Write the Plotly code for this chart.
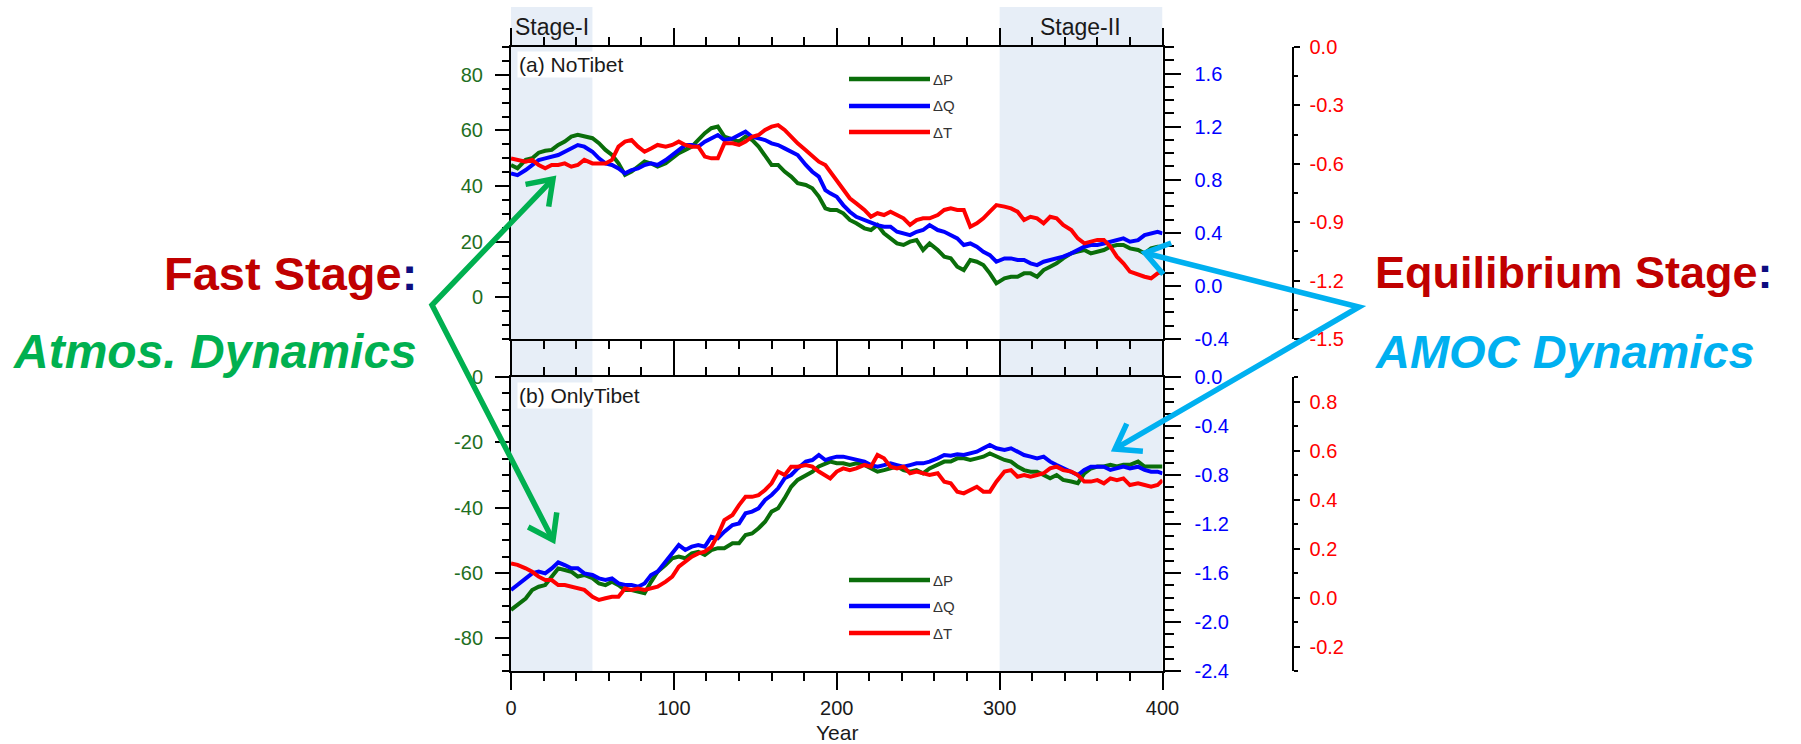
import math
import plotly.graph_objects as go

# ---------------- data ----------------
years = [0, 4, 9, 13, 17, 21, 25, 29, 33, 37, 41, 45, 50, 54, 58, 62, 66, 70, 74, 78,
         82, 86, 90, 95, 99, 103, 107, 111, 115, 119, 123, 127, 131, 136, 140, 144, 148, 152, 156, 160,
         164, 168, 172, 176, 181, 185, 189, 193,
         196, 200, 204, 208, 212, 217, 221, 225, 229, 233, 237, 241, 245, 249, 253, 257, 262, 266, 270, 274,
         278, 282, 286, 290, 294, 298, 303, 307, 311, 315, 319, 323, 327, 331, 335, 339, 344, 348, 352, 356,
         360, 364, 368, 372, 376, 380, 385, 389, 393, 397, 400]

# (a) NoTibet
dP_a = [47.6, 46.4, 49.4, 50.0, 52.0, 52.7, 53.0, 54.8, 56.0, 57.8, 58.4, 58.0, 57.2, 55.4, 53.0, 51.2,
        48.2, 44.0, 45.2, 47.0, 48.8, 48.1, 47.0, 48.2, 50.0, 51.8, 53.0, 54.2, 56.6, 59.0, 60.8, 61.4,
        57.8, 56.6, 56.0, 57.8, 56.6, 54.2, 50.6, 47.6, 47.6, 45.2, 43.4, 41.0, 40.4, 39.2, 36.2, 32.0,
        31.4, 31.4, 30.2, 27.8, 26.6, 24.8, 24.2, 26.0, 23.0, 21.2, 19.4, 18.8, 20.0, 20.6, 17.0, 19.4,
        17.0, 14.6, 14.0, 11.0, 9.8, 13.4, 12.8, 11.6, 8.6, 5.0, 6.8, 7.4, 7.4, 8.6, 8.6, 7.4,
        9.8, 11.0, 12.2, 14.0, 15.8, 16.4, 17.0, 15.8, 16.4, 17.0, 18.2, 18.8, 18.8, 17.6, 17.0, 15.8,
        17.6, 18.2, 18.2]
dQ_a = [0.848, 0.835, 0.873, 0.911, 0.948, 0.961, 0.973, 0.986, 1.011, 1.036, 1.061, 1.049, 1.011, 0.961,
        0.923, 0.911, 0.885, 0.848, 0.873, 0.885, 0.911, 0.923, 0.911, 0.948, 0.986, 1.024, 1.061, 1.061,
        1.049, 1.086, 1.111, 1.137, 1.099, 1.111, 1.137, 1.162, 1.124, 1.111, 1.099, 1.074, 1.061, 1.036,
        1.011, 0.986, 0.911, 0.860, 0.823, 0.722,
        0.697, 0.672, 0.609, 0.559, 0.521, 0.496, 0.471, 0.458, 0.446, 0.446, 0.408, 0.396, 0.383, 0.408,
        0.421, 0.458, 0.421, 0.408, 0.383, 0.358, 0.308, 0.320, 0.295, 0.257, 0.232, 0.182, 0.207, 0.207,
        0.195, 0.195, 0.170, 0.157, 0.182, 0.195, 0.207, 0.220, 0.245, 0.270, 0.295, 0.308, 0.308, 0.320,
        0.333, 0.345, 0.358, 0.333, 0.345, 0.383, 0.396, 0.408, 0.396]
dT_a = [-0.572, -0.580, -0.589, -0.580, -0.606, -0.623, -0.606, -0.606, -0.598, -0.615, -0.606, -0.580,
        -0.598, -0.598, -0.598, -0.580, -0.512, -0.486, -0.478, -0.512, -0.538, -0.521, -0.503, -0.512,
        -0.503, -0.486, -0.503, -0.512, -0.512, -0.563, -0.572, -0.572, -0.495, -0.495, -0.503, -0.486,
        -0.461, -0.452, -0.426, -0.409, -0.401, -0.426, -0.461, -0.495, -0.530, -0.563, -0.589, -0.606,
        -0.640, -0.683, -0.735, -0.777, -0.803, -0.837, -0.872, -0.854, -0.863, -0.846, -0.863, -0.880,
        -0.914, -0.889, -0.880, -0.880, -0.863, -0.837, -0.829, -0.837, -0.837, -0.923, -0.906, -0.880,
        -0.846, -0.812, -0.820, -0.829, -0.846, -0.889, -0.872, -0.880, -0.906, -0.872, -0.880, -0.914,
        -0.940, -0.983, -1.009, -1.000, -0.991, -0.991, -1.026, -1.077, -1.111, -1.154, -1.171, -1.180,
        -1.188, -1.163, -1.154]

# (b) OnlyTibet
dP_b = [-71.3, -69.8, -67.8, -65.2, -64.2, -63.7, -61.1, -58.6, -59.1, -59.6, -61.1, -60.6, -61.6, -63.2,
        -63.7, -62.7, -63.7, -65.2, -65.2, -65.7, -66.2, -62.7, -59.6, -57.5, -55.5, -55.0, -55.5, -54.0,
        -53.5, -54.5, -53.0, -52.4, -52.4, -50.9, -50.9, -48.4, -47.9, -46.3, -44.3, -41.2, -40.2, -37.1,
        -33.6, -31.5, -30.0, -29.0, -27.4, -26.4,
        -25.9, -26.4, -26.4, -26.9, -26.4, -26.9, -28.0, -29.0, -28.5, -28.0, -27.4, -28.5, -29.0, -28.5,
        -29.5, -28.0, -26.9, -25.9, -25.9, -24.9, -24.9, -25.4, -24.9, -24.4, -23.4, -24.4, -25.4, -25.9,
        -27.4, -28.5, -29.0, -29.0, -30.0, -31.0, -30.0, -31.5, -32.0, -32.5, -29.5, -28.0, -27.4, -27.4,
        -26.9, -27.4, -26.9, -26.9, -25.9, -27.4, -27.4, -27.4, -27.4]
dQ_b = [-1.739, -1.698, -1.644, -1.603, -1.589, -1.603, -1.562, -1.513, -1.535, -1.562, -1.562, -1.603,
        -1.616, -1.644, -1.657, -1.644, -1.685, -1.698, -1.698, -1.712, -1.685, -1.616, -1.589, -1.508,
        -1.440, -1.372, -1.412, -1.385, -1.372, -1.385, -1.304, -1.317, -1.263, -1.208, -1.195, -1.113,
        -1.099, -1.072, -1.004, -0.963, -0.909, -0.827, -0.800, -0.746, -0.691, -0.678, -0.637, -0.678,
        -0.664, -0.650, -0.650, -0.664, -0.678, -0.691, -0.719, -0.732, -0.719, -0.705, -0.719, -0.732,
        -0.719, -0.705, -0.705, -0.691, -0.664, -0.637, -0.642, -0.631, -0.637, -0.623, -0.610, -0.582,
        -0.555, -0.582, -0.596, -0.582, -0.610, -0.637, -0.650, -0.664, -0.650, -0.691, -0.719, -0.746,
        -0.773, -0.800, -0.759, -0.732, -0.732, -0.732, -0.759, -0.746, -0.732, -0.746, -0.732, -0.759,
        -0.773, -0.773, -0.787]
dT_b = [0.139, 0.133, 0.119, 0.105, 0.085, 0.071, 0.071, 0.051, 0.051, 0.044, 0.037, 0.031, 0.003, -0.010,
        -0.003, 0.003, 0.003, 0.037, 0.031, 0.037, 0.031, 0.037, 0.044, 0.065, 0.085, 0.126, 0.146, 0.167,
        0.180, 0.187, 0.207, 0.255, 0.316, 0.337, 0.377, 0.411, 0.411, 0.418, 0.439, 0.466, 0.514, 0.500,
        0.534, 0.534, 0.541, 0.534, 0.514, 0.500,
        0.486, 0.514, 0.527, 0.520, 0.527, 0.541, 0.534, 0.582, 0.568, 0.534, 0.527, 0.534, 0.507, 0.514,
        0.507, 0.500, 0.507, 0.473, 0.466, 0.432, 0.425, 0.439, 0.452, 0.432, 0.432, 0.473, 0.514, 0.520,
        0.493, 0.500, 0.493, 0.500, 0.507, 0.527, 0.534, 0.520, 0.514, 0.500, 0.473, 0.473, 0.479, 0.466,
        0.486, 0.479, 0.486, 0.459, 0.466, 0.459, 0.452, 0.459, 0.479]

# tick values / labels
x_ticks = [0, 100, 200, 300, 400]
left_a_ticks = [0, 20, 40, 60, 80]
left_b_ticks = [-80, -60, -40, -20, 0]
blue_a_ticks = [-0.4, 0.0, 0.4, 0.8, 1.2, 1.6]
blue_b_ticks = [-2.4, -2.0, -1.6, -1.2, -0.8, -0.4, 0.0]
red_a_ticks = [-1.5, -1.2, -0.9, -0.6, -0.3, 0.0]
red_b_ticks = [-0.2, 0.0, 0.2, 0.4, 0.6, 0.8]
stage1 = [0, 50]
stage2 = [300, 400]
series_names = ["\u0394P", "\u0394Q", "\u0394T"]

# ---------------- styling / layout geometry ----------------
W, H = 1801, 744
def fx(px):
    return px / W
def fy(py):
    return 1 - py / H

X0, X1 = 511, 1162.5
A_TOP, A_BOT = 47, 339
B_TOP, B_BOT = 377, 671
RED_X = 1292.5

FONT = "Liberation Sans, Arial, Helvetica, sans-serif"
C_P, C_Q, C_T = "#0a6e0a", "#0000ff", "#ff0000"
TXT_GREEN = "#1f6f1f"
SHADE = "#E7EEF7"
INK = "#1a1a1a"


def fmt(v, nd):
    s = f"{v:.{nd}f}"
    return "0.0" if s in ("-0.0",) else s


fig = go.Figure()
for y, ax, col in [(dP_a, ("x", "y"), C_P), (dQ_a, ("x", "y2"), C_Q), (dT_a, ("x", "y3"), C_T),
                   (dP_b, ("x2", "y4"), C_P), (dQ_b, ("x2", "y5"), C_Q), (dT_b, ("x2", "y6"), C_T)]:
    fig.add_trace(go.Scatter(x=years, y=y, xaxis=ax[0], yaxis=ax[1], mode="lines",
                             line=dict(color=col, width=4), showlegend=False, hoverinfo="skip"))

base = dict(showline=True, linecolor="black", linewidth=2, ticks="outside", tickcolor="black",
            tickwidth=2, showgrid=False, zeroline=False, automargin=False)


def xax(anchor, labels):
    d = dict(base)
    d.update(domain=[fx(X0), fx(X1)], range=[0, 400], anchor=anchor, mirror="ticks", ticklen=17,
             tickmode="array", tickvals=x_ticks, ticktext=[str(v) for v in x_ticks],
             showticklabels=labels, ticklabelstandoff=1,
             tickfont=dict(size=20, color=INK, family=FONT),
             minor=dict(ticks="outside", ticklen=8, tickwidth=1.5, tickcolor="black",
                        tickmode="linear", tick0=0, dtick=20))
    return d


def yax(domain, rng, tv, tt, color, tlen, mdt, mlen, side="left", anchor="x", overlaying=None,
        position=None, standoff=8):
    d = dict(base)
    d.update(domain=domain, range=rng, side=side, anchor=anchor, ticklen=tlen,
             tickmode="array", tickvals=tv, ticktext=tt, ticklabelstandoff=standoff,
             tickfont=dict(size=20, color=color, family=FONT),
             minor=dict(ticks="outside", ticklen=mlen, tickwidth=1.5, tickcolor="black",
                        tickmode="linear", tick0=0, dtick=mdt))
    if overlaying:
        d["overlaying"] = overlaying
    if position is not None:
        d["position"] = position
    return d


dom_a = [fy(A_BOT), fy(A_TOP)]
dom_b = [fy(B_BOT), fy(B_TOP)]

layout = dict(
    width=W, height=H, margin=dict(l=0, r=0, t=0, b=0),
    paper_bgcolor="white", plot_bgcolor="rgba(0,0,0,0)",
    font=dict(family=FONT, color=INK), showlegend=False,
    xaxis=xax("y", False),
    xaxis2=xax("y4", True),
    yaxis=yax(dom_a, [-15, 90], left_a_ticks, [str(v) for v in left_a_ticks], TXT_GREEN, 14, 5, 7),
    yaxis2=yax(dom_a, [-0.4, 1.8], blue_a_ticks, [fmt(v, 1) for v in blue_a_ticks], C_Q, 16, 0.1, 9,
               side="right", anchor="x", overlaying="y", standoff=10),
    yaxis3=yax(dom_a, [-1.5, 0.0], red_a_ticks, [fmt(v, 1) for v in red_a_ticks], C_T, 6, 0.15, 4,
               side="right", anchor="free", overlaying="y", position=fx(RED_X), standoff=6),
    yaxis4=yax(dom_b, [-90, 0], left_b_ticks, [str(v) for v in left_b_ticks], TXT_GREEN, 14, 5, 7,
               anchor="x2"),
    yaxis5=yax(dom_b, [-2.4, 0.0], blue_b_ticks, [fmt(v, 1) for v in blue_b_ticks], C_Q, 16, 0.1, 9,
               side="right", anchor="x2", overlaying="y4", standoff=10),
    yaxis6=yax(dom_b, [-0.3, 0.9], red_b_ticks, [fmt(v, 1) for v in red_b_ticks], C_T, 6, 0.1, 4,
               side="right", anchor="free", overlaying="y4", position=fx(RED_X), standoff=6),
)
fig.update_layout(**layout)

shapes = []
# stage shading
for s in (stage1, stage2):
    shapes.append(dict(type="rect", xref="x", yref="paper", x0=s[0], x1=s[1], y0=fy(B_BOT), y1=fy(7),
                       fillcolor=SHADE, line=dict(width=0), layer="below"))

# legend samples (drawn manually, NCL style)
leg_rows = [[79, 106, 132], [580, 606, 633]]
annotations = []
for rows in leg_rows:
    for name, col, py in zip(series_names, [C_P, C_Q, C_T], rows):
        shapes.append(dict(type="line", xref="paper", yref="paper", x0=fx(849), x1=fx(930),
                           y0=fy(py), y1=fy(py), line=dict(color=col, width=4.5)))
        annotations.append(dict(text=name, xref="paper", yref="paper", x=fx(931), y=fy(py),
                                xanchor="left", yanchor="middle", showarrow=False,
                                font=dict(size=15, color="#333333", family=FONT)))


def path(pts):
    return "M " + " L ".join(f"{fx(a):.5f},{fy(b):.5f}" for a, b in pts)


def chevron(vertex, tip, length=28, ang=35):
    dx, dy = vertex[0] - tip[0], vertex[1] - tip[1]
    n = math.hypot(dx, dy)
    bx, by = dx / n, dy / n
    out = []
    for sgn in (1, -1):
        a = math.radians(ang) * sgn
        rx = bx * math.cos(a) - by * math.sin(a)
        ry = bx * math.sin(a) + by * math.cos(a)
        out.append((tip[0] + length * rx, tip[1] + length * ry))
    return [out[0], tip, out[1]]


for col, vertex, tips in [("#00B050", (432, 305), [(553, 179), (553, 540)]),
                          ("#00B0F0", (1359, 307), [(1145, 253), (1115, 449)])]:
    shapes.append(dict(type="path", xref="paper", yref="paper",
                       path=path([tips[0], vertex, tips[1]]), line=dict(color=col, width=5.5)))
    for t in tips:
        shapes.append(dict(type="path", xref="paper", yref="paper", path=path(chevron(vertex, t)),
                           line=dict(color=col, width=5.5)))

# texts
def ann(text, px, py, size, color=INK, xa="left", ya="middle", bg=None):
    d = dict(text=text, xref="paper", yref="paper", x=fx(px), y=fy(py), xanchor=xa, yanchor=ya,
             showarrow=False, font=dict(size=size, color=color, family=FONT))
    if bg:
        d.update(bgcolor=bg, borderpad=1)
    return d

annotations += [
    ann("Stage-I", 513, 27, 23),
    ann("Stage-II", 1080, 27, 23, xa="center"),
    ann("(a) NoTibet", 517, 64, 21, bg="white"),
    ann("(b) OnlyTibet", 517, 395, 21, bg="white"),
    ann("Year", (X0 + X1) / 2, 732, 21, xa="center"),
    ann("<b><span style='color:#C00000'>Fast Stage</span><span style='color:#0D0D80'>:</span></b>",
        419, 273, 47, xa="right"),
    ann("<b><i>Atmos. Dynamics</i></b>", 419, 351, 48, color="#00B050", xa="right"),
    ann("<b><span style='color:#C00000'>Equilibrium Stage</span><span style='color:#0D0D80'>:</span></b>",
        1373, 272, 45),
    ann("<b><i>AMOC Dynamics</i></b>", 1373, 351, 47, color="#00B0F0"),
]

fig.update_layout(shapes=shapes, annotations=annotations)
fig.write_html(
    "out.html",
    config={"displayModeBar": False},
    post_script="document.body.style.margin='0px';document.body.style.padding='0px';"
                "document.body.style.overflow='hidden';",
)
